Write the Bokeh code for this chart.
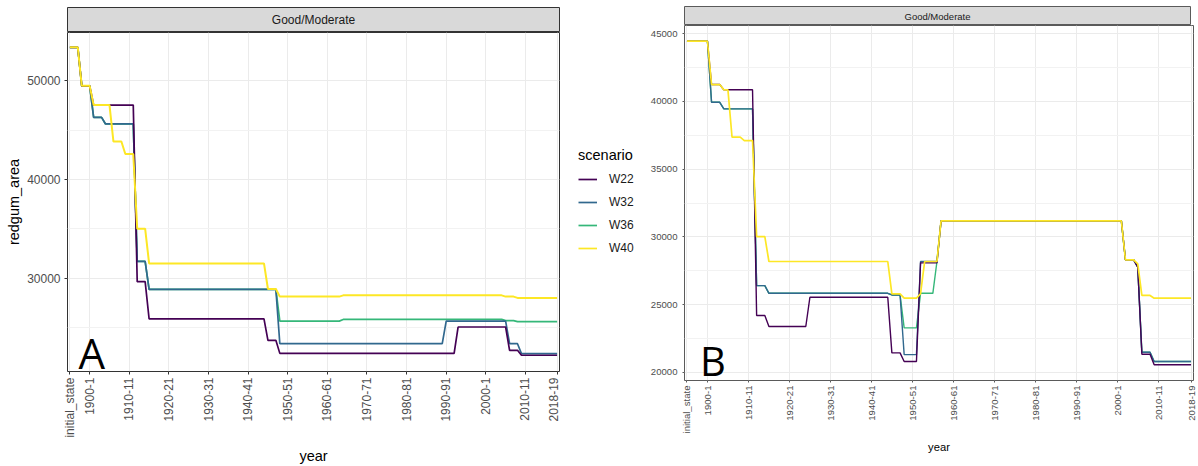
import math
from bokeh.plotting import figure
from bokeh.layouts import row, column
from bokeh.models import FixedTicker, Legend, LegendItem, Range1d
from bokeh.embed import file_html
from bokeh.resources import INLINE
from bokeh.core.properties import value

# ---------------- data ----------------
SCENARIOS = ["W22", "W32", "W36", "W40"]
COLORS = {"W22": "#440154", "W32": "#31688E", "W36": "#35B779", "W40": "#FDE725"}

# x positions: year index, "initial_state" sits at 1895
X_TICKS = [1895, 1900, 1910, 1920, 1930, 1940, 1950, 1960, 1970, 1980, 1990, 2000, 2010, 2018]
X_LABELS = ["initial_state", "1900-1", "1910-11", "1920-21", "1930-31", "1940-41", "1950-51",
            "1960-61", "1970-71", "1980-81", "1990-91", "2000-1", "2010-11", "2018-19"]

# Panel A
A_W22_x = [1895, 1897, 1898, 1900, 1901, 1911, 1912, 1914, 1915, 1944, 1945, 1947, 1948, 1992, 1993, 2005, 2006, 2008, 2009, 2018]
A_W22_y = [53400, 53400, 49500, 49500, 47550, 47550, 29660, 29660, 25900, 25900, 23720, 23720, 22400, 22400, 25070, 25070, 22710, 22710, 22210, 22210]
A_W32_x = [1895, 1897, 1898, 1900, 1901, 1903, 1904, 1911, 1912, 1914, 1915, 1947, 1948, 1989, 1990, 2005, 2006, 2008, 2009, 2018]
A_W32_y = [53400, 53400, 49500, 49500, 46310, 46310, 45640, 45640, 31710, 31710, 28890, 28890, 23380, 23380, 25670, 25670, 23380, 23380, 22380, 22380]
A_W36_x = [1895, 1897, 1898, 1900, 1901, 1903, 1904, 1911, 1912, 1914, 1915, 1947, 1948, 1963, 1964, 2004, 2005, 2007, 2008, 2018]
A_W36_y = [53400, 53400, 49500, 49500, 46310, 46310, 45640, 45640, 31710, 31710, 28890, 28890, 25670, 25670, 25840, 25840, 25720, 25720, 25610, 25610]
A_W40_x = [1895, 1897, 1898, 1900, 1901, 1905, 1906, 1908, 1909, 1911, 1912, 1914, 1915, 1944, 1945, 1947, 1948, 1963, 1964, 2004, 2005, 2007, 2008, 2018]
A_W40_y = [53400, 53400, 49500, 49500, 47550, 47550, 43860, 43860, 42590, 42590, 35030, 35030, 31510, 31510, 28920, 28920, 28150, 28150, 28280, 28280, 28150, 28150, 28020, 28020]

# Panel B
B_W22_x = [1895, 1900, 1901, 1903, 1904, 1911, 1912, 1914, 1915, 1924, 1925, 1944, 1945, 1947, 1948, 1951, 1952, 1956, 1957, 2001, 2002, 2004, 2005, 2006, 2008, 2009, 2018]
B_W22_y = [44450, 44450, 41250, 41250, 40860, 40860, 24190, 24190, 23380, 23380, 25540, 25540, 21430, 21430, 20790, 20790, 28080, 28080, 31180, 31180, 28300, 28300, 27760, 21330, 21330, 20550, 20550]
B_W32_x = [1895, 1900, 1901, 1903, 1904, 1911, 1912, 1914, 1915, 1944, 1945, 1947, 1948, 1951, 1952, 1956, 1957, 2001, 2002, 2004, 2005, 2006, 2008, 2009, 2018]
B_W32_y = [44450, 44450, 39940, 39940, 39450, 39450, 26400, 26400, 25830, 25830, 25710, 25710, 21300, 21300, 28180, 28180, 31180, 31180, 28300, 28300, 27760, 21480, 21480, 20790, 20790]
B_W36_x = [1895, 1900, 1901, 1903, 1904, 1911, 1912, 1914, 1915, 1944, 1945, 1947, 1948, 1951, 1952, 1955, 1956, 1957, 2001, 2002, 2004, 2005, 2006, 2008, 2009, 2018]
B_W36_y = [44450, 44450, 39940, 39940, 39450, 39450, 26400, 26400, 25830, 25830, 25710, 25710, 23280, 23280, 25830, 25830, 28180, 31180, 31180, 28300, 28300, 27760, 21480, 21480, 20790, 20790]
B_W40_x = [1895, 1900, 1901, 1903, 1904, 1905, 1906, 1908, 1909, 1911, 1912, 1914, 1915, 1944, 1945, 1947, 1948, 1951, 1952, 1953, 1956, 1957, 2001, 2002, 2004, 2005, 2006, 2008, 2009, 2018]
B_W40_y = [44450, 44450, 41250, 41250, 40860, 40860, 37360, 37360, 37110, 37110, 30020, 30020, 28180, 28180, 25790, 25790, 25470, 25470, 25800, 28180, 28180, 31180, 31180, 28300, 28300, 28010, 25670, 25670, 25470, 25470]

A_SERIES = {"W22": (A_W22_x, A_W22_y), "W32": (A_W32_x, A_W32_y),
            "W36": (A_W36_x, A_W36_y), "W40": (A_W40_x, A_W40_y)}
B_SERIES = {"W22": (B_W22_x, B_W22_y), "W32": (B_W32_x, B_W32_y),
            "W36": (B_W36_x, B_W36_y), "W40": (B_W40_x, B_W40_y)}

A_Y_MAJOR = [30000, 40000, 50000]
A_Y_MINOR = [25000, 35000, 45000]
B_Y_MAJOR = [20000, 25000, 30000, 35000, 40000, 45000]
B_Y_MINOR = [22500, 27500, 32500, 37500, 42500]

STRIP_TEXT = "Good/Moderate"
FONT = "Liberation Sans"
DRAW_ORDER = ["W36", "W32", "W22", "W40"]


def make_strip(width, height, left, top, border, font_size):
    s = figure(width=width, height=height, x_range=Range1d(0, 1), y_range=Range1d(0, 1),
               output_backend="svg", toolbar_location=None,
               x_axis_location=None, y_axis_location=None,
               min_border_left=left, min_border_right=1, min_border_top=top, min_border_bottom=0)
    s.xgrid.visible = False
    s.ygrid.visible = False
    s.background_fill_color = "#D9D9D9"
    s.border_fill_color = "white"
    s.outline_line_color = border
    s.outline_line_width = 1
    s.text(x=[0.5], y=[0.5], text=[STRIP_TEXT], text_align="center", text_baseline="middle",
           text_font=value(FONT), text_font_size=font_size, text_color="#1A1A1A")
    return s


def make_main(series, width, height, left, right, bottom, yr, ymaj, ymin, tick_fs, title_fs,
              border, tick_len, lw, ylabel, xlabel_standoff):
    p = figure(width=width, height=height, x_range=Range1d(1894.4, 2018.6), y_range=Range1d(*yr),
               output_backend="svg", toolbar_location=None,
               min_border_left=left, min_border_right=right, min_border_top=0, min_border_bottom=bottom)
    p.background_fill_color = "white"
    p.border_fill_color = "white"
    p.outline_line_color = border
    p.outline_line_width = 1

    p.xaxis.ticker = FixedTicker(ticks=X_TICKS)
    p.xaxis.major_label_overrides = dict(zip(X_TICKS, X_LABELS))
    p.xaxis.major_label_orientation = math.pi / 2
    p.yaxis.ticker = FixedTicker(ticks=ymaj, minor_ticks=ymin)

    p.xgrid.grid_line_color = "#EBEBEB"
    p.ygrid.grid_line_color = "#EBEBEB"
    p.ygrid.minor_grid_line_color = "#F2F2F2"
    p.grid.grid_line_width = 1

    p.axis.axis_line_color = None
    p.axis.major_tick_line_color = border
    p.axis.major_tick_out = tick_len
    p.axis.major_tick_in = 0
    p.axis.minor_tick_line_color = None
    p.axis.major_label_text_font = FONT
    p.axis.major_label_text_font_size = tick_fs
    p.axis.major_label_text_color = "#4D4D4D"
    p.axis.major_label_standoff = 3
    p.axis.axis_label_text_font = FONT
    p.axis.axis_label_text_font_size = title_fs
    p.axis.axis_label_text_font_style = "normal"
    p.axis.axis_label_text_color = "#000000"
    p.xaxis.axis_label = "year"
    p.xaxis.axis_label_standoff = xlabel_standoff
    if ylabel:
        p.yaxis.axis_label = ylabel
        p.yaxis.axis_label_standoff = 2

    for s in DRAW_ORDER:
        xs, ys = series[s]
        w = lw + 0.3 if s == "W40" else lw
        p.line(xs, ys, line_color=COLORS[s], line_width=w)
    return p


# ---------------- Panel A ----------------
stripA = make_strip(560, 32, 67, 7, "#333333", "12px")
pA = make_main(A_SERIES, 560, 434, 67, 1, 93, (20564, 54904), A_Y_MAJOR, A_Y_MINOR,
               "12px", "14.5px", "#333333", 3, 1.7, "redgum_area", 7)
pA.text(x=[1897.2], y=[22500], text=["A"], text_font=value("Open Sans"), text_font_size="42px",
        text_color="black", text_align="left", text_baseline="alphabetic")

# ---------------- legend (between the panels) ----------------
LEG_H = 466
pL = figure(width=83, height=LEG_H, x_range=Range1d(0, 1), y_range=Range1d(0, 1),
            output_backend="svg", toolbar_location=None,
            x_axis_location=None, y_axis_location=None,
            min_border_left=0, min_border_right=0, min_border_top=0, min_border_bottom=0)
pL.xgrid.visible = False
pL.ygrid.visible = False
pL.outline_line_color = None
pL.background_fill_color = "white"
pL.border_fill_color = "white"
nan = float("nan")
leg_r = {s: pL.line(x=[nan], y=[nan], line_color=COLORS[s], line_width=1.7) for s in SCENARIOS}
legend = Legend(items=[LegendItem(label=s, renderers=[leg_r[s]]) for s in SCENARIOS],
                title="scenario", location=(18, 208), orientation="vertical")
legend.title_text_font = FONT
legend.title_text_font_size = "14.5px"
legend.title_text_font_style = "normal"
legend.title_text_color = "#000000"
legend.title_standoff = 6
legend.label_text_font = FONT
legend.label_text_font_size = "12px"
legend.label_text_color = "#1A1A1A"
legend.glyph_width = 19
legend.glyph_height = 20
legend.label_height = 20
legend.label_standoff = 12
legend.spacing = 3
legend.padding = 4
legend.margin = 0
legend.border_line_color = None
legend.background_fill_alpha = 0
pL.add_layout(legend)

# ---------------- Panel B ----------------
stripB = make_strip(551, 25, 41, 6, "#5A5A5A", "9.5px")
pB = make_main(B_SERIES, 554, 441, 41, 4, 86, (19390, 45610), B_Y_MAJOR, B_Y_MINOR,
               "9.6px", "11.2px", "#5A5A5A", 2, 1.4, None, 5)
pB.text(x=[1898.2], y=[20880], text=["B"], text_font=value("Open Sans"), text_font_size="40px",
        text_color="black", text_align="left", text_baseline="alphabetic")

layout = row(column(stripA, pA), pL, column(stripB, pB))

open("out.html", "w").write(file_html(layout, INLINE))
